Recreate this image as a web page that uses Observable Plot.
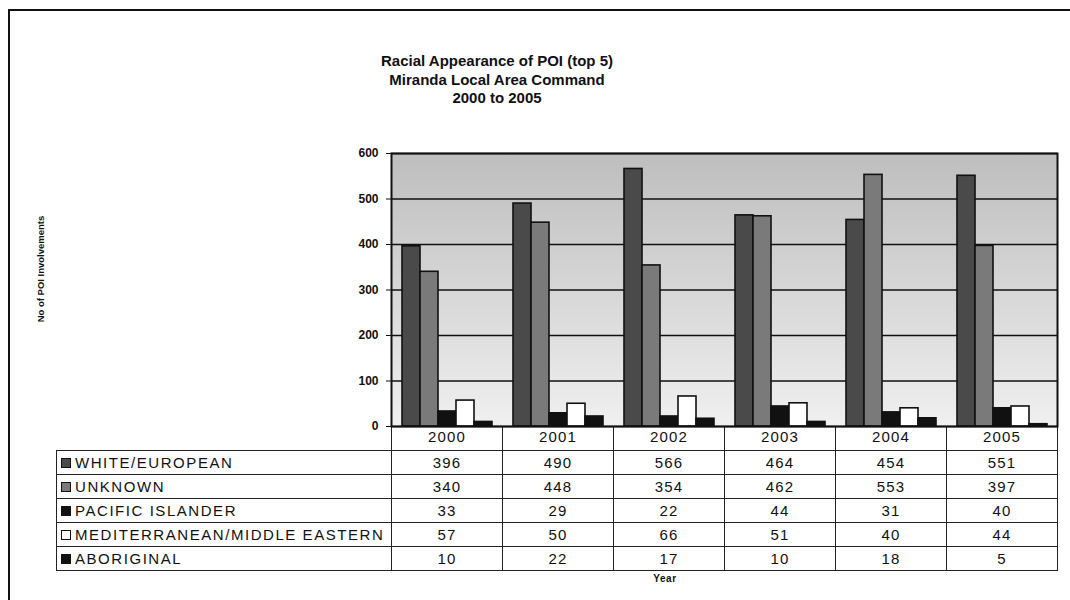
<!DOCTYPE html>
<html>
<head>
<meta charset="utf-8">
<script src="https://cdn.jsdelivr.net/npm/d3@7"></script>
<script src="https://cdn.jsdelivr.net/npm/@observablehq/plot@0.6"></script>
<style>
  html, body { margin: 0; padding: 0; background: #fff; }
  body { width: 1070px; height: 600px; overflow: hidden; font-family: "Liberation Sans", Arial, sans-serif; }
  #page { position: relative; width: 1070px; height: 600px; }
  #border { position: absolute; left: 8px; top: 9px; width: 1080px; height: 620px; border-left: 2.5px solid #111; border-top: 2.5px solid #111; }
  #title { position: absolute; left: 0; top: 52px; width: 994px; text-align: center; font-weight: bold; font-size: 15px; line-height: 18.5px; color: #111; }
  #ytitle { position: absolute; left: 40px; top: 269px; transform: translate(-50%, -50%) rotate(-90deg); white-space: nowrap; font-weight: bold; font-size: 9.5px; color: #111; }
  #chart { position: absolute; left: 0; top: 0; }
  #table { position: absolute; left: 56px; top: 426px; border-collapse: collapse; table-layout: fixed; font-size: 15px; color: #111; }
  #table tr { height: 24px; }
  #table tr.head { height: 24px; }
  #table td { border: 1.5px solid #222; padding: 0; text-align: center; letter-spacing: 1.2px; line-height: 15px; }
  #table tr.head td { border-top: none; }
  #table tr.head td.lab { border-left: none; border-top: none; }
  #table td.lab { text-align: left; letter-spacing: 1.55px; white-space: nowrap; }
  .sw { display: inline-block; width: 8px; height: 8px; border: 1.5px solid #111; margin: 0 4px 0 4px; vertical-align: 0px; }
  #xtitle { position: absolute; left: 665px; top: 573px; transform: translateX(-50%); font-weight: bold; font-size: 10px; letter-spacing: 0.6px; color: #111; }
</style>
</head>
<body>
<svg width="0" height="0" style="position:absolute">
  <defs>
    <linearGradient id="bg" x1="0" y1="0" x2="0" y2="1">
      <stop offset="0" stop-color="#bebebe"/>
      <stop offset="0.45" stop-color="#d4d4d4"/>
      <stop offset="1" stop-color="#f0f0f0"/>
    </linearGradient>
  </defs>
</svg>
<div id="page">
  <div id="border"></div>
  <div id="title"></div>
  <div id="ytitle">No of POI Involvements</div>
  <table id="table"></table>
  <div id="chart"></div>
  <div id="xtitle">Year</div>
</div>
<script>
// ---- data ----
const years = ["2000", "2001", "2002", "2003", "2004", "2005"];
const series = ["WHITE/EUROPEAN", "UNKNOWN", "PACIFIC ISLANDER", "MEDITERRANEAN/MIDDLE EASTERN", "ABORIGINAL"];
const whiteEuropean = [396, 490, 566, 464, 454, 551];
const unknown = [340, 448, 354, 462, 553, 397];
const pacificIslander = [33, 29, 22, 44, 31, 40];
const mediterraneanMiddleEastern = [57, 50, 66, 51, 40, 44];
const aboriginal = [10, 22, 17, 10, 18, 5];
const seriesColors = ["#4a4a4a", "#7a7a7a", "#111111", "#ffffff", "#111111"];
const yTicks = [0, 100, 200, 300, 400, 500, 600];
const titleLines = ["Racial Appearance of POI (top 5)", "Miranda Local Area Command", "2000 to 2005"];

const seriesValues = [whiteEuropean, unknown, pacificIslander, mediterraneanMiddleEastern, aboriginal];
const rows = series.flatMap((s, i) => years.map((y, j) => ({series: s, year: y, value: seriesValues[i][j]})));

// title
document.getElementById("title").innerHTML = titleLines.join("<br>");

// chart
const chart = Plot.plot({
  width: 1070,
  height: 450,
  marginLeft: 391,
  marginRight: 13,
  marginTop: 153,
  marginBottom: 24,
  style: {fontFamily: "'Liberation Sans', Arial, sans-serif", background: "transparent", color: "#111"},
  fx: {domain: years, padding: 0, label: null},
  x: {domain: series, axis: null, paddingInner: 0, paddingOuter: 0.58},
  y: {domain: [0, 600], label: null},
  color: {domain: series, range: seriesColors},
  marks: [
    Plot.frame({fill: "url(#bg)", facet: "super"}),
    Plot.ruleY(yTicks, {stroke: "#111", strokeWidth: 1.6}),
    Plot.barY(rows, {fx: "year", x: "series", y: "value", fill: "series", stroke: "#111", strokeWidth: 1.6}),
    Plot.frame({stroke: "#111", strokeWidth: 2, facet: "super"}),
    Plot.axisY({ticks: yTicks, tickSize: 5, tickPadding: 8, fontWeight: "bold", fontSize: 12, label: null, tickFormat: d => d}),
    Plot.axisFx({anchor: "bottom", tickSize: 0, tickPadding: 5, fontSize: 15, label: null})
  ]
});
document.getElementById("chart").appendChild(chart);
chart.querySelectorAll('[aria-label="fx-axis tick label"] text').forEach(t => t.setAttribute("letter-spacing", "1.2"));

// data table (header row carries only cell borders; years come from Plot's fx axis)
const table = document.getElementById("table");
const colgroup = document.createElement("colgroup");
[335, ...years.map(() => 111)].forEach(w => { const c = document.createElement("col"); c.style.width = w + "px"; colgroup.appendChild(c); });
table.appendChild(colgroup);
const head = document.createElement("tr");
head.className = "head";
head.innerHTML = `<td class="lab"></td>` + years.map(() => `<td></td>`).join("");
table.appendChild(head);
series.forEach((s, i) => {
  const tr = document.createElement("tr");
  const fill = seriesColors[i];
  tr.innerHTML = `<td class="lab"><span class="sw" style="background:${fill}"></span>${s}</td>` +
    seriesValues[i].map(v => `<td>${v}</td>`).join("");
  table.appendChild(tr);
});
</script>
</body>
</html>
